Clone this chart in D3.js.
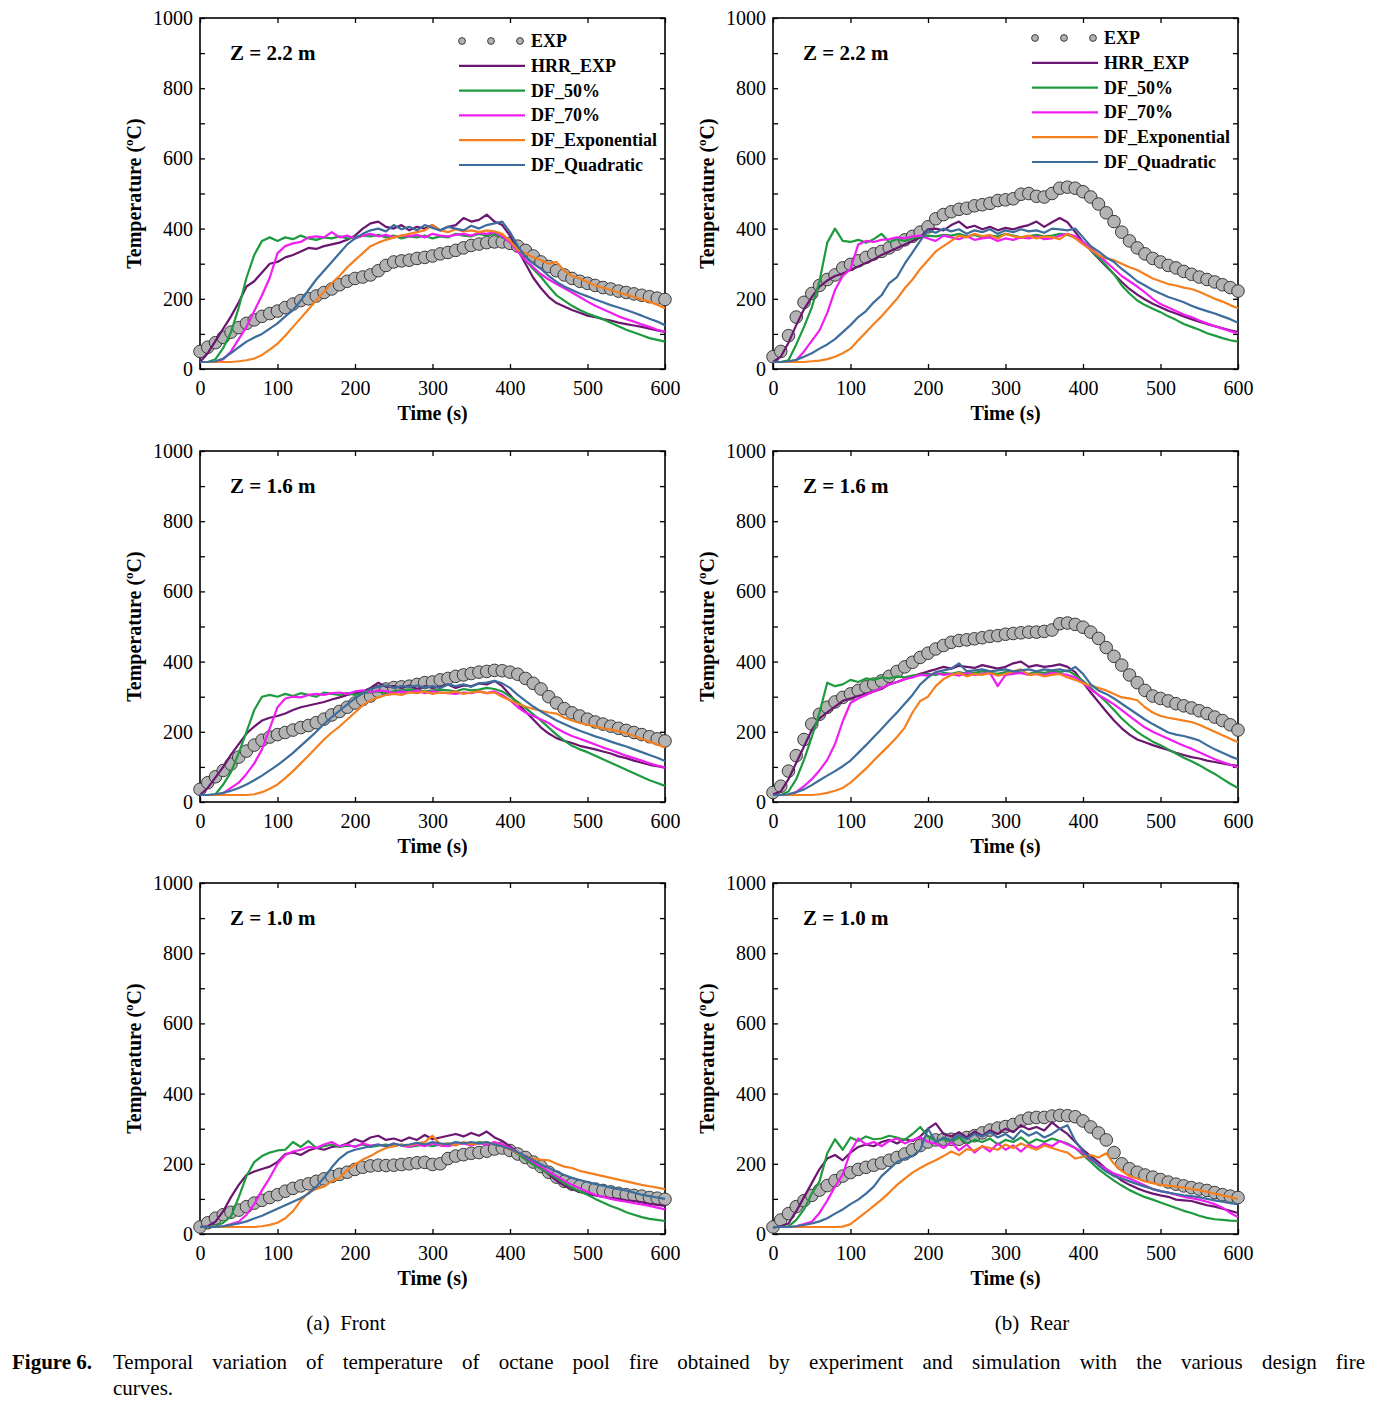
<!DOCTYPE html>
<html><head><meta charset="utf-8">
<script src="https://cdn.jsdelivr.net/npm/d3@7"></script>
<style>
html,body{margin:0;padding:0;background:#fff;}
svg{display:block;font-family:"Liberation Serif","Times New Roman",serif;}
</style></head>
<body>
<svg id="chart" width="1384" height="1405"></svg>
<script>
// ---------------- DATA ----------------
const timeS = [0,10,20,30,40,50,60,70,80,90,100,110,120,130,140,150,160,170,180,190,200,210,220,230,240,250,260,270,280,290,300,310,320,330,340,350,360,370,380,390,400,410,420,430,440,450,460,470,480,490,500,510,520,530,540,550,560,570,580,590,600];
const seriesNames = ["EXP","HRR_EXP","DF_50%","DF_70%","DF_Exponential","DF_Quadratic"];
const panelTitles = ["Z = 2.2 m","Z = 2.2 m","Z = 1.6 m","Z = 1.6 m","Z = 1.0 m","Z = 1.0 m"];
const xTicks = [0,100,200,300,400,500,600];
const yTicks = [0,100,200,300,400,500,600,700,800,900,1000];
const yTickLabels = [0,200,400,600,800,1000];
const subTitles = ["(a)  Front","(b)  Rear"];
const captionBold = "Figure 6.";
const captionLine1 = "Temporal variation of temperature of octane pool fire obtained by experiment and simulation with the various design fire";
const captionLine2 = "curves.";

// Z = 2.2 m, Front
const exp22F  = [50,62,75,90,105,118,130,140,150,158,165,175,185,195,200,208,218,228,240,250,258,262,268,280,295,305,308,310,315,318,322,328,332,338,345,352,356,360,362,362,358,350,338,322,305,292,280,268,258,250,244,238,232,228,222,218,214,210,206,202,198];
const hrr22F  = [20,45,80,115,150,190,235,250,275,300,305,318,325,335,345,342,350,355,360,368,380,400,415,420,405,400,410,395,405,400,410,395,405,410,430,420,425,440,420,410,380,340,300,260,230,205,188,178,168,160,152,148,142,138,132,128,124,120,115,110,106];
const d5022F  = [20,20,28,60,105,175,260,325,365,375,365,375,370,380,372,368,375,372,378,372,375,380,378,382,375,380,372,378,375,380,372,378,375,385,380,378,385,380,385,375,365,340,310,285,262,235,210,195,180,168,158,150,142,132,122,112,104,96,88,83,78];
const d7022F  = [20,20,20,28,50,85,120,165,210,260,330,350,358,362,375,378,375,390,375,380,372,380,385,378,382,375,380,378,382,375,385,380,378,382,385,380,388,385,390,378,360,335,310,290,270,255,242,230,218,205,192,180,170,160,150,142,135,127,120,112,106];
const dExp22F = [20,20,20,20,20,22,25,30,40,55,72,95,120,145,170,195,220,245,265,290,310,330,350,360,368,375,380,385,390,395,410,395,390,398,392,395,390,395,392,385,365,340,330,318,310,300,305,280,265,258,248,238,232,225,218,212,205,198,192,183,173];
const dQua22F = [20,20,22,30,45,62,78,90,100,115,130,150,168,195,225,255,280,305,330,355,372,385,395,400,392,410,398,405,395,410,402,395,405,400,395,408,400,410,415,420,390,350,320,300,285,265,248,235,225,215,207,198,190,182,175,168,160,152,143,135,125];

// Z = 2.2 m, Rear
const exp22R  = [35,50,95,148,190,215,238,255,268,288,298,308,318,328,335,345,356,368,378,390,405,428,440,448,455,458,465,468,472,480,482,485,498,500,492,490,500,515,518,515,505,490,470,445,420,390,365,345,328,315,305,295,288,278,270,262,255,248,240,232,222];
const hrr22R  = [20,35,75,125,170,205,235,252,265,272,282,292,302,312,325,335,345,355,365,375,398,400,395,410,420,402,408,398,405,395,402,398,405,410,420,405,418,430,418,390,362,338,315,292,270,248,228,212,198,186,176,166,158,150,142,135,128,122,116,110,105];
const d5022R  = [20,20,25,70,120,175,250,360,400,365,362,368,360,370,385,362,370,365,372,378,380,378,382,380,385,378,382,375,380,378,385,380,375,378,382,378,380,385,382,375,360,340,318,295,270,238,215,195,182,172,162,150,140,128,120,112,102,95,88,82,78];
const d7022R  = [20,20,20,25,50,80,110,160,225,265,285,355,365,362,368,370,375,372,378,380,372,365,380,375,370,378,368,372,375,365,372,368,375,372,378,370,372,380,385,378,362,345,325,305,285,265,250,235,218,200,185,175,165,155,148,138,130,122,115,108,102];
const dExp22R = [20,20,20,20,20,22,24,28,35,45,58,82,105,128,150,175,200,230,255,285,310,335,350,365,380,375,385,378,382,372,385,378,375,380,372,378,375,370,385,372,355,340,325,315,310,300,290,282,270,258,250,242,238,232,228,220,210,200,192,182,173];
const dQua22R = [20,20,22,26,35,45,58,70,85,105,125,148,165,190,210,245,262,300,332,365,395,388,400,392,398,385,395,390,398,385,395,390,398,392,395,388,400,398,395,400,375,350,335,318,305,285,268,250,238,225,215,205,198,190,180,172,165,158,150,142,132];

// Z = 1.6 m, Front
const exp16F  = [36,55,72,90,108,128,145,162,176,185,192,198,205,212,218,226,236,248,258,270,282,292,302,315,322,326,328,330,335,340,342,348,352,358,362,366,370,372,375,374,370,364,352,338,322,300,282,266,254,245,236,228,222,216,210,204,198,192,186,180,174];
const hrr16F  = [20,40,70,100,135,165,195,215,232,240,245,252,262,270,275,280,285,292,298,305,310,315,325,340,328,330,325,332,322,330,325,328,335,325,332,330,338,335,345,330,305,280,258,235,212,195,182,174,168,160,155,150,144,138,130,125,118,112,106,102,98];
const d5016F  = [20,20,22,50,85,140,200,262,300,305,300,308,302,310,305,300,312,308,305,310,305,310,312,315,310,315,318,320,318,315,318,320,318,315,322,318,320,325,322,315,300,285,268,250,232,212,192,175,160,150,142,132,122,112,102,92,82,72,62,54,46];
const d7016F  = [20,20,20,25,40,55,80,110,150,210,270,295,300,298,305,308,305,310,312,308,315,318,312,318,315,310,315,312,318,310,315,312,310,308,312,310,315,310,315,305,290,270,255,245,235,225,210,198,188,180,172,164,155,148,140,132,125,118,110,104,98];
const dExp16F = [20,20,20,20,20,20,20,22,28,38,50,68,88,110,132,155,178,198,215,235,255,275,290,298,305,308,305,312,310,315,308,312,310,315,308,312,315,310,312,300,290,280,272,265,260,255,252,240,232,225,220,215,210,206,202,196,188,180,172,164,155];
const dQua16F = [20,20,22,26,32,40,50,62,75,90,105,122,140,160,180,200,222,242,260,278,295,310,322,328,332,325,330,328,332,326,330,325,335,330,335,328,338,340,345,338,325,305,288,272,258,245,232,222,212,203,195,187,180,172,165,158,150,142,134,126,117];

// Z = 1.6 m, Rear
const exp16R  = [27,45,88,132,178,222,250,270,285,298,308,318,328,336,345,358,372,385,398,412,424,436,446,455,460,462,465,468,472,474,478,480,482,484,484,486,490,508,510,506,498,484,466,440,415,390,362,340,318,302,295,288,280,274,268,260,252,242,232,220,205];
const hrr16R  = [22,30,65,112,158,205,238,255,272,288,295,302,308,315,322,335,342,350,358,365,372,378,385,380,388,385,382,390,385,380,385,395,400,385,390,385,388,392,385,370,340,312,285,258,232,210,192,178,170,162,155,148,140,134,128,124,118,114,110,106,103];
const d5016R  = [20,20,30,65,120,185,255,340,330,335,348,342,352,348,355,352,358,355,360,362,365,362,368,365,370,365,368,372,368,365,370,372,368,365,370,368,372,370,375,362,345,325,305,285,262,238,218,200,185,172,162,150,138,126,116,105,92,80,66,52,40];
const d7016R  = [20,20,20,28,45,65,90,120,165,230,282,295,305,315,325,335,342,350,355,362,360,368,362,365,360,368,362,365,368,330,362,365,368,362,365,362,368,365,362,355,340,320,305,292,278,262,245,228,212,200,190,180,170,160,152,142,132,122,114,106,98];
const dExp16R = [20,20,20,20,20,20,22,26,32,40,55,75,95,118,140,162,185,212,255,288,300,330,350,362,368,358,365,362,368,360,365,372,378,362,365,358,362,365,355,348,338,332,325,318,308,298,295,290,270,255,245,240,236,232,228,220,210,200,190,180,170];
const dQua16R = [20,20,22,28,36,48,62,75,88,102,118,140,162,185,208,232,255,280,305,335,355,370,375,380,395,372,375,378,372,375,378,372,375,378,372,378,375,378,372,385,365,335,318,308,295,280,265,250,235,222,210,198,192,188,182,175,162,150,140,130,122];

// Z = 1.0 m, Front
const exp10F  = [20,32,45,55,62,68,78,88,96,104,112,122,130,137,143,150,157,164,170,176,184,190,194,196,195,196,198,200,203,204,198,200,215,222,226,230,232,236,242,245,238,228,218,205,192,176,162,150,142,136,132,128,124,120,116,112,110,108,104,102,99];
const hrr10F  = [20,22,35,65,105,140,168,178,185,192,205,228,232,225,238,245,240,248,250,258,270,262,275,280,268,272,265,275,268,282,270,275,280,285,278,288,280,292,275,265,250,232,215,200,188,170,152,138,128,120,114,110,106,102,100,96,94,90,86,83,80];
const d5010F  = [20,20,22,32,50,105,165,205,222,232,238,240,262,248,265,245,250,255,248,252,250,255,248,252,255,250,255,248,252,255,250,255,258,255,260,255,262,258,255,250,242,228,212,198,185,172,160,145,132,122,112,100,90,80,72,62,55,48,43,40,37];
const d7010F  = [20,20,20,22,28,35,55,85,125,160,200,225,235,240,248,245,255,262,250,255,248,258,252,255,250,258,252,248,255,250,258,252,250,255,258,252,258,255,262,255,245,232,220,205,192,178,165,152,140,130,120,112,106,100,96,92,88,84,80,75,70];
const dExp10F = [20,20,20,20,20,20,20,20,22,26,32,45,65,95,118,128,135,150,160,182,198,212,222,235,245,250,255,252,258,262,280,255,258,252,262,255,258,262,255,250,240,230,222,215,212,210,200,192,188,180,175,170,165,160,155,150,145,140,136,132,128];
const dQua10F = [20,20,20,22,26,30,36,44,52,62,72,82,92,102,115,135,160,190,215,232,240,245,250,255,250,258,252,255,260,255,262,258,255,262,258,262,258,262,255,250,242,232,222,210,198,188,178,168,160,154,148,142,138,132,128,124,118,112,108,104,100];

// Z = 1.0 m, Rear
const exp10R  = [20,40,58,78,95,110,125,138,152,165,175,184,190,196,202,210,218,228,240,252,262,268,270,270,270,275,280,288,296,302,306,312,322,330,332,332,336,338,337,334,322,305,288,268,232,200,186,176,168,162,155,148,142,137,132,128,124,118,112,108,104];
const hrr10R  = [18,22,30,65,105,145,185,215,225,210,232,248,255,250,262,268,258,270,265,278,300,315,285,278,290,275,292,280,295,285,300,290,310,298,305,295,318,300,285,262,240,222,205,185,170,152,140,130,122,115,110,106,98,96,94,88,82,78,72,66,60];
const d5010R  = [20,20,22,40,70,115,150,230,270,240,275,265,278,270,272,280,275,268,285,305,278,265,270,262,275,258,268,262,272,255,268,262,275,258,270,262,272,265,258,245,225,205,185,168,152,138,125,115,105,98,90,82,74,66,60,52,46,42,40,38,37];
const d7010R  = [20,20,20,22,28,35,60,95,135,170,235,272,255,262,250,265,272,258,268,275,262,258,245,262,238,255,232,250,235,258,240,252,235,255,245,258,250,265,255,245,230,212,198,185,172,165,158,148,138,128,122,118,112,106,102,98,92,85,75,60,48];
const dExp10R = [20,20,20,20,20,20,20,20,20,21,28,45,62,80,98,118,140,158,175,188,200,210,222,235,225,242,238,250,245,240,255,245,258,248,240,252,245,238,232,215,220,225,218,230,200,180,165,158,150,145,140,138,135,132,128,125,120,115,110,105,100];
const dQua10R = [20,20,20,22,26,30,36,45,58,70,85,98,115,135,165,185,205,215,222,240,300,262,275,268,282,270,285,278,290,275,285,270,295,280,290,275,285,300,310,265,235,215,195,178,165,158,150,142,135,128,122,118,114,110,108,105,100,96,92,88,85];

// ---------------- LAYOUT ----------------
const colors = ["#b3b3b3","#6b1670","#1e9a3f","#f01ef0","#f5801f","#3d6d9c"];
const colX = [200, 773];
const rowY = [18, 451, 883];
const pw = 465, ph = 351;

const panels = [
  {title: panelTitles[0], col:0, row:0, data:[exp22F,hrr22F,d5022F,d7022F,dExp22F,dQua22F], legend:true, legDy:23},
  {title: panelTitles[1], col:1, row:0, data:[exp22R,hrr22R,d5022R,d7022R,dExp22R,dQua22R], legend:true, legDy:20},
  {title: panelTitles[2], col:0, row:1, data:[exp16F,hrr16F,d5016F,d7016F,dExp16F,dQua16F]},
  {title: panelTitles[3], col:1, row:1, data:[exp16R,hrr16R,d5016R,d7016R,dExp16R,dQua16R]},
  {title: panelTitles[4], col:0, row:2, data:[exp10F,hrr10F,d5010F,d7010F,dExp10F,dQua10F]},
  {title: panelTitles[5], col:1, row:2, data:[exp10R,hrr10R,d5010R,d7010R,dExp10R,dQua10R]},
];

const svg = d3.select("#chart");

panels.forEach(p => {
  const x0 = colX[p.col], y0 = rowY[p.row];
  const g = svg.append("g").attr("transform", `translate(${x0},${y0})`);
  const x = d3.scaleLinear().domain([0,600]).range([0,pw]);
  const y = d3.scaleLinear().domain([0,1000]).range([ph,0]);

  // axes
  const ax = (sel) => { sel.select(".domain").remove(); sel.selectAll("line").attr("stroke","#000").attr("stroke-width",1.3); };
  g.append("g").attr("transform",`translate(0,${ph})`)
    .call(d3.axisBottom(x).tickValues(xTicks).tickSizeInner(-5).tickSizeOuter(0).tickPadding(12))
    .call(ax)
    .selectAll("text").attr("font-size",20).attr("font-family","Liberation Serif").attr("fill","#000");
  g.append("g")
    .call(d3.axisTop(x).tickValues(xTicks).tickSizeInner(-5).tickSizeOuter(0).tickFormat(""))
    .call(ax);
  g.append("g")
    .call(d3.axisLeft(y).tickValues(yTicks).tickSizeInner(-5).tickSizeOuter(0).tickPadding(7)
      .tickFormat(v => yTickLabels.includes(v) ? v : ""))
    .call(ax)
    .selectAll("text").attr("font-size",20).attr("font-family","Liberation Serif").attr("fill","#000");
  g.append("g").attr("transform",`translate(${pw},0)`)
    .call(d3.axisRight(y).tickValues(yTicks).tickSizeInner(-5).tickSizeOuter(0).tickFormat(""))
    .call(ax);
  g.append("rect").attr("x",0).attr("y",0).attr("width",pw).attr("height",ph)
    .attr("fill","none").attr("stroke","#000").attr("stroke-width",1.6);

  // axis titles
  g.append("text").attr("x",pw/2).attr("y",ph+51).attr("text-anchor","middle")
    .attr("font-size",20).attr("font-weight","bold").text("Time (s)");
  const yt = g.append("text").attr("transform",`translate(${-59},${ph/2}) rotate(-90)`)
    .attr("text-anchor","middle").attr("font-size",20).attr("font-weight","bold");
  yt.append("tspan").text("Temperature (");
  yt.append("tspan").attr("font-size",13).attr("dy",-8).text("o");
  yt.append("tspan").attr("dy",8).text("C)");

  // panel label
  g.append("text").attr("x",30).attr("y",42).attr("font-size",21).attr("font-weight","bold").text(p.title);

  // EXP markers
  g.append("g").selectAll("circle").data(timeS.map((t,i)=>[t,p.data[0][i]])).join("circle")
    .attr("cx",d=>x(d[0])).attr("cy",d=>y(d[1])).attr("r",6.3)
    .attr("fill",colors[0]).attr("stroke","#2a2a2a").attr("stroke-width",0.9);

  // lines
  const line = d3.line().x(d=>x(d[0])).y(d=>y(d[1]));
  for (let s=1; s<6; s++) {
    g.append("path").datum(timeS.map((t,i)=>[t,p.data[s][i]]))
      .attr("d",line).attr("fill","none").attr("stroke",colors[s]).attr("stroke-width",2.2)
      .attr("stroke-linejoin","round");
  }

  // legend
  if (p.legend) {
    const lg = g.append("g").attr("transform",`translate(259,${p.legDy})`);
    seriesNames.forEach((nm,i) => {
      const yy = i*24.8;
      if (i===0) {
        [3,32,61].forEach(cx => lg.append("circle").attr("cx",cx).attr("cy",yy).attr("r",3.4)
          .attr("fill",colors[0]).attr("stroke","#2a2a2a").attr("stroke-width",0.9));
      } else {
        lg.append("line").attr("x1",0).attr("x2",66).attr("y1",yy).attr("y2",yy)
          .attr("stroke",colors[i]).attr("stroke-width",2.2);
      }
      lg.append("text").attr("x",72).attr("y",yy+6).attr("font-size",18).attr("font-weight","bold").text(nm);
    });
  }
});

// sub titles
svg.append("text").attr("x",346).attr("y",1330).attr("text-anchor","middle").attr("font-size",21)
  .attr("xml:space","preserve").style("white-space","pre").text(subTitles[0]);
svg.append("text").attr("x",1032).attr("y",1330).attr("text-anchor","middle").attr("font-size",21)
  .attr("xml:space","preserve").style("white-space","pre").text(subTitles[1]);

// caption (justified first line)
svg.append("text").attr("x",12).attr("y",1369).attr("font-size",21).attr("font-weight","bold").text(captionBold);
const words = captionLine1.split(" ");
const wEls = words.map(w => svg.append("text").attr("y",1369).attr("font-size",21).text(w));
const widths = wEls.map(e => e.node().getComputedTextLength());
const startX = 113, endX = 1365;
const gap = (endX - startX - d3.sum(widths)) / (words.length - 1);
let cx = startX;
wEls.forEach((e,i) => { e.attr("x",cx); cx += widths[i] + gap; });
svg.append("text").attr("x",113).attr("y",1395).attr("font-size",21).text(captionLine2);
</script>
</body></html>
